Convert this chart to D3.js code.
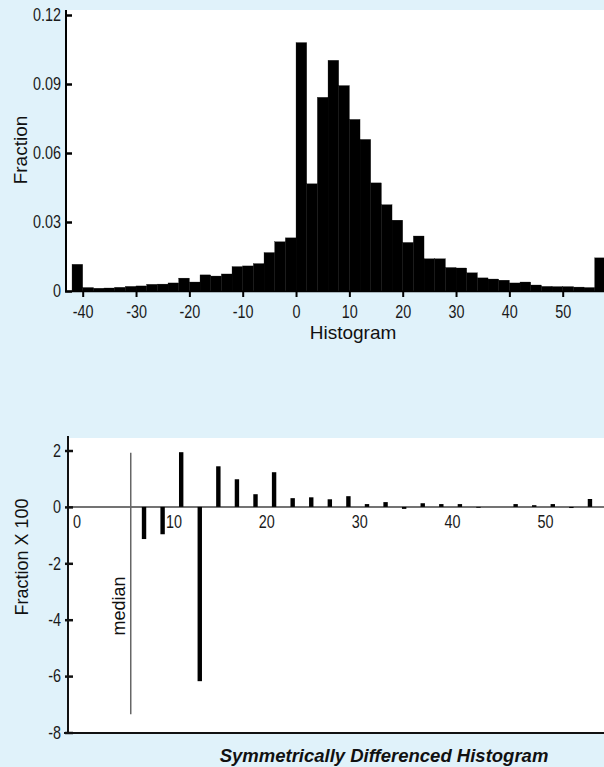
<!DOCTYPE html>
<html>
<head>
<meta charset="utf-8">
<script src="https://cdn.jsdelivr.net/npm/d3@7/dist/d3.min.js"></script>
<style>
	body { margin: 0; background: #e0f2fa; }
	svg { display: block; }
	.tick-label { font-family: "Liberation Sans", Arial, sans-serif; font-size: 18px; fill: #1a1a1a; }
	.axis-title { font-family: "Liberation Sans", Arial, sans-serif; font-size: 19px; fill: #111; }
</style>
</head>
<body>
<svg id="chart"></svg>
<script>

// histogram: bin left edges (width 2) and fraction in each bin
var binEdges = [-42, -40, -38, -36, -34, -32, -30, -28, -26, -24,
	-22, -20, -18, -16, -14, -12, -10, -8, -6, -4,
	-2, 0, 2, 4, 6, 8, 10, 12, 14, 16,
	18, 20, 22, 24, 26, 28, 30, 32, 34, 36,
	38, 40, 42, 44, 46, 48, 50, 52, 54, 56];
var binFraction = [0.0116, 0.0015, 0.0012, 0.0013, 0.0016, 0.0020, 0.0022, 0.0029, 0.0030, 0.0035,
	0.0056, 0.0039, 0.0070, 0.0065, 0.0074, 0.0106, 0.0109, 0.0119, 0.0167, 0.0214,
	0.0231, 0.1080, 0.0466, 0.0842, 0.1003, 0.0893, 0.0746, 0.0659, 0.0470, 0.0375,
	0.0308, 0.0211, 0.0239, 0.0140, 0.0140, 0.0102, 0.0100, 0.0079, 0.0057, 0.0052,
	0.0047, 0.0035, 0.0039, 0.0026, 0.0020, 0.0019, 0.0019, 0.0017, 0.0015, 0.0144];
var histXTicks = [-40, -30, -20, -10, 0, 10, 20, 30, 40, 50];
var histYTicks = [0, 0.03, 0.06, 0.09, 0.12];

// symmetrically differenced histogram (fraction x 100)
var diffPos = [7, 9, 11, 13, 15, 17, 19, 21, 23, 25, 27, 29, 31,
	33, 35, 37, 39, 41, 43, 45, 47, 49, 51, 53, 55];
var diffValue = [-1.14, -0.97, 1.94, -6.18, 1.44, 0.98, 0.45, 1.23, 0.31, 0.34, 0.27, 0.38, 0.10,
	0.17, -0.07, 0.13, 0.10, 0.10, -0.03, 0, 0.10, 0.06, 0.10, -0.04, 0.28];
var diffXTicks = [0, 10, 20, 30, 40, 50];
var diffYTicks = [2, 0, -2, -4, -6, -8];
var medianValue = 5.57;
var medianSpan = [1.92, -7.35];

var width = 604, height = 767;
var narrow = 0.8; // squeeze tick labels to look like a condensed face

var svg = d3.select("#chart").attr("width", width).attr("height", height);

svg.append("rect").attr("width", width).attr("height", height).attr("fill", "#e0f2fa");

function squeezeLabels(g, padX) {
	g.selectAll(".tick text")
		.attr("class", "tick-label")
		.attr("fill", null)
		.attr("transform", "scale(" + narrow + ",1)")
		.attr("x", function() { return padX === undefined ? +d3.select(this).attr("x") : padX / narrow; });
}

// TOP: HISTOGRAM
var hx = d3.scaleLinear().domain([-40, 50]).range([82.7, 562.7]);
var hy = d3.scaleLinear().domain([0, 0.12]).range([291, 15]);

svg.append("rect")
	.attr("x", 66).attr("y", 10)
	.attr("width", width - 66).attr("height", 291 - 10)
	.attr("fill", "#fff");

svg.append("g").selectAll("rect")
	.data(binEdges)
	.enter().append("rect")
	.attr("x", function(d) { return hx(d); })
	.attr("width", function(d) { return hx(d + 2) - hx(d); })
	.attr("y", function(d, i) { return hy(binFraction[i]); })
	.attr("height", function(d, i) { return hy(0) - hy(binFraction[i]); })
	.attr("fill", "#000")
	.attr("stroke", "#000")
	.attr("stroke-width", 0.3);

var hxAxis = d3.axisBottom(hx).tickValues(histXTicks).tickSize(6).tickPadding(8)
	.tickFormat(function(d) { return String(d); });
svg.append("g")
	.attr("transform", "translate(0," + hy(0) + ")")
	.call(hxAxis)
	.call(function(g) {
		g.select(".domain").attr("d", "M66,0.5H" + width).attr("stroke", "#000").attr("stroke-width", 1.5);
		g.selectAll(".tick line").attr("stroke", "#000").attr("stroke-width", 2);
		squeezeLabels(g);
	})
	.attr("font-family", null).attr("font-size", null);

var hyAxis = d3.axisLeft(hy).tickValues(histYTicks).tickSize(0).tickPadding(5)
	.tickFormat(function(d) { return d === 0 ? "0" : d3.format(".2f")(d); });
svg.append("g")
	.attr("transform", "translate(66,0)")
	.call(hyAxis)
	.call(function(g) {
		g.select(".domain").attr("d", "M0,10V292").attr("stroke", "#000").attr("stroke-width", 2);
		g.selectAll(".tick line").attr("x1", -1).attr("x2", 6).attr("stroke", "#000").attr("stroke-width", 2.5);
		squeezeLabels(g, -5);
	})
	.attr("font-family", null).attr("font-size", null);

svg.append("text")
	.attr("class", "axis-title")
	.attr("transform", "translate(27,150) rotate(-90)")
	.attr("text-anchor", "middle")
	.text("Fraction");

svg.append("text")
	.attr("class", "axis-title")
	.attr("x", 353).attr("y", 339)
	.attr("text-anchor", "middle")
	.text("Histogram");

// BOTTOM: SYMMETRICALLY DIFFERENCED HISTOGRAM
var dx = d3.scaleLinear().domain([0, 50]).range([79, 543.5]);
var dy = d3.scaleLinear().domain([-8, 2]).range([732.5, 450.5]);

svg.append("rect")
	.attr("x", 68).attr("y", 438)
	.attr("width", width - 68).attr("height", 733 - 438)
	.attr("fill", "#fff");

// zero line
svg.append("line")
	.attr("x1", 68).attr("x2", width)
	.attr("y1", dy(0)).attr("y2", dy(0))
	.attr("stroke", "#444").attr("stroke-width", 1.5);

svg.append("line")
	.attr("x1", dx(medianValue)).attr("x2", dx(medianValue))
	.attr("y1", dy(medianSpan[0])).attr("y2", dy(medianSpan[1]))
	.attr("stroke", "#666").attr("stroke-width", 1.5);

svg.append("text")
	.attr("class", "axis-title")
	.attr("transform", "translate(" + (dx(medianValue) - 6) + ",606) rotate(-90)")
	.attr("text-anchor", "middle")
	.style("font-size", "18px")
	.text("median");

svg.append("g").selectAll("rect")
	.data(diffPos)
	.enter().append("rect")
	.attr("x", function(d) { return dx(d) - 2.2; })
	.attr("width", 4.4)
	.attr("y", function(d, i) { return dy(Math.max(0, diffValue[i])); })
	.attr("height", function(d, i) { return Math.abs(dy(diffValue[i]) - dy(0)); })
	.attr("fill", "#000");

svg.append("g").selectAll("text")
	.data(diffXTicks)
	.enter().append("text")
	.attr("class", "tick-label")
	.attr("transform", function(d) {
		var x = d === 0 ? dx(d) - 2 : dx(d) + 2;
		return "translate(" + x + ",528) scale(" + narrow + ",1)";
	})
	.attr("text-anchor", "middle")
	.text(function(d) { return d; });

var dyAxis = d3.axisLeft(dy).tickValues(diffYTicks).tickSize(0).tickPadding(7)
	.tickFormat(function(d) { return String(d); });
svg.append("g")
	.attr("transform", "translate(68,0)")
	.call(dyAxis)
	.call(function(g) {
		g.select(".domain").attr("d", "M0,436V734").attr("stroke", "#111").attr("stroke-width", 2);
		g.selectAll(".tick line").attr("x1", -3).attr("x2", 5).attr("stroke", "#111").attr("stroke-width", 2.5);
		squeezeLabels(g, -7);
	})
	.attr("font-family", null).attr("font-size", null);

svg.append("line")
	.attr("x1", 64).attr("x2", width)
	.attr("y1", 733).attr("y2", 733)
	.attr("stroke", "#111").attr("stroke-width", 2);

svg.append("text")
	.attr("class", "axis-title")
	.attr("transform", "translate(28,557) rotate(-90)")
	.attr("text-anchor", "middle")
	.style("font-size", "18px")
	.text("Fraction X 100");

svg.append("text")
	.attr("class", "axis-title")
	.attr("x", 384).attr("y", 762)
	.attr("text-anchor", "middle")
	.style("font-size", "18.5px")
	.style("font-weight", "bold")
	.style("font-style", "italic")
	.text("Symmetrically Differenced Histogram");

</script>
</body>
</html>
